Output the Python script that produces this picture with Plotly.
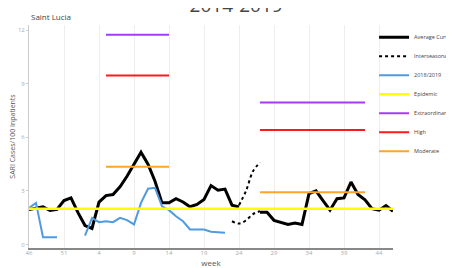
import plotly.graph_objects as go

# Week labels (epidemiological weeks, 46/2018 .. 46/2019)
weeks = [46, 47, 48, 49, 50, 51, 52] + list(range(1, 47))
tick_labels = ["46", "51", "4", "9", "14", "19", "24", "29", "34", "39", "44"]

average_curve = [1.96, 2.05, 2.11, 1.90, 1.96, 2.46, 2.61, 1.78, 1.06, 0.90,
                 2.37, 2.74, 2.80, 3.23, 3.82, 4.50, 5.17, 4.50, 3.54, 2.33,
                 2.33, 2.56, 2.38, 2.11, 2.24, 2.52, 3.30, 3.04, 3.10, 2.20,
                 2.10, None, None, 1.81, 1.80, 1.35, 1.25, 1.12, 1.20, 1.12,
                 2.85, 3.00, 2.45, 1.92, 2.56, 2.61, 3.50, 2.80, 2.50, 2.00,
                 1.92, 2.18, 1.86]

season_2018_2019 = [2.05, 2.33, 0.40, 0.40, 0.40, None, None, None, 0.50, 1.49,
                    1.25, 1.30, 1.25, 1.49, 1.36, 1.12, 2.33, 3.12, 3.17, 2.14,
                    1.92, 1.58, 1.30, 0.84, 0.84, 0.84, 0.71, 0.69, 0.65]

# Interseasonal curves (week index -> value)
interseasonal_low_idx = [29, 30, 31, 32, 33]
interseasonal_low = [1.30, 1.17, 1.35, 1.70, 1.86]
interseasonal_high_idx = [30, 31, 32, 33]
interseasonal_high = [2.20, 3.00, 4.10, 4.60]

epidemic = 2.0
# thresholds per season (start index, end index)
seasons = [(11, 20), (33, 48)]
moderate = [4.35, 2.93]
high = [9.47, 6.42]
extraordinary = [11.75, 7.96]

n = len(weeks)
x_idx = list(range(n))


def season_series(values):
    ys = [None] * n
    for (a, b), v in zip(seasons, values):
        for i in range(a, b + 1):
            ys[i] = v
    return ys


fig = go.Figure()
fig.add_trace(go.Scatter(x=x_idx, y=average_curve, mode="lines", name="Average Curve",
                         line=dict(color="black", width=3), connectgaps=False))
fig.add_trace(go.Scatter(x=interseasonal_low_idx, y=interseasonal_low, mode="lines",
                         name="Interseasonal", legendgroup="inter",
                         line=dict(color="black", width=2, dash="dot", shape="spline")))
fig.add_trace(go.Scatter(x=interseasonal_high_idx, y=interseasonal_high, mode="lines",
                         name="Interseasonal", legendgroup="inter", showlegend=False,
                         line=dict(color="black", width=2, dash="dot", shape="spline")))
fig.add_trace(go.Scatter(x=x_idx[:len(season_2018_2019)], y=season_2018_2019, mode="lines",
                         name="2018/2019", line=dict(color="#4f9be0", width=2)))
fig.add_trace(go.Scatter(x=x_idx, y=[epidemic] * n, mode="lines", name="Epidemic",
                         line=dict(color="#ffff00", width=2.5)))
fig.add_trace(go.Scatter(x=x_idx, y=season_series(extraordinary), mode="lines",
                         name="Extraordinary", line=dict(color="#a53cf5", width=2)))
fig.add_trace(go.Scatter(x=x_idx, y=season_series(high), mode="lines", name="High",
                         line=dict(color="#ff1a1a", width=2)))
fig.add_trace(go.Scatter(x=x_idx, y=season_series(moderate), mode="lines", name="Moderate",
                         line=dict(color="#ffa42c", width=2)))

tick_vals = list(range(0, n, 5))[:len(tick_labels)]

fig.update_layout(
    width=454, height=268,
    margin=dict(l=21, r=69, t=17, b=28, autoexpand=False),
    paper_bgcolor="white", plot_bgcolor="white",
    font=dict(family="Open Sans, Arial, sans-serif", size=6, color="#999"),
    title=dict(text="2014-2019", xref="paper", x=0.569, xanchor="center",
               yref="container", y=0.986, yanchor="bottom",
               font=dict(size=19, color="#444")),
    showlegend=True,
    legend=dict(x=0.948, xanchor="left", y=1.01, yanchor="top",
                font=dict(size=5.5, color="#444"),
                bgcolor="rgba(0,0,0,0)", itemwidth=30, tracegroupgap=0),
    xaxis=dict(range=[0, 52], tickmode="array", tickvals=tick_vals, ticktext=tick_labels,
               showgrid=True, gridcolor="#eeeeee", gridwidth=1, zeroline=False,
               showline=True, linecolor="#888", linewidth=1.5, ticks="",
               ticklabelstandoff=-2,
               title=dict(text="week", font=dict(size=8, color="#555"), standoff=0),
               tickfont=dict(size=6, color="#aaa")),
    yaxis=dict(range=[-0.2, 12.3], tickvals=[0, 3, 6, 9, 12], showgrid=False, zeroline=False,
               showline=True, linecolor="#ccc", linewidth=1, ticks="outside", ticklen=2,
               tickcolor="#ccc",
               title=dict(text="SARI Cases/100 Inpatients", font=dict(size=7, color="#555"),
                          standoff=4),
               tickfont=dict(size=6, color="#aaa")),
)
fig.add_annotation(text="Saint Lucia", xref="paper", yref="paper", x=0.0, y=1.0,
                   xanchor="left", yanchor="bottom", yshift=1, showarrow=False,
                   font=dict(size=8, color="#444"))

fig.write_html("out.html")
